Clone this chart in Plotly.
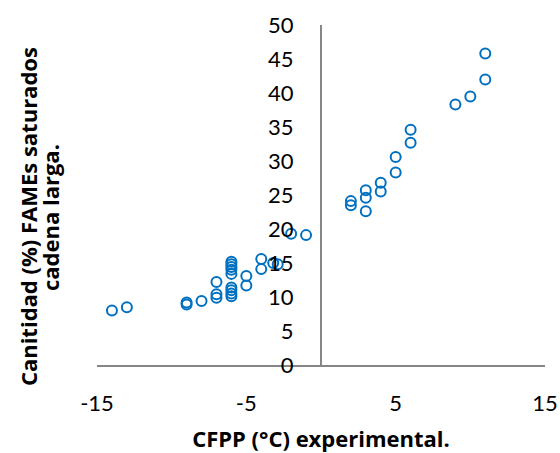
import plotly.graph_objects as go

# CFPP (°C) experimental
cfpp = [-14, -13, -9, -9, -8, -7, -7, -7,
        -6, -6, -6, -6, -6, -6, -6, -6, -6,
        -5, -5, -4, -4, -3.2, -2.9, -2, -1,
        2, 2, 3, 3, 3, 4, 4, 5, 5, 6, 6, 9, 10, 11, 11]
# Cantidad (%) FAMEs saturados cadena larga
fames = [8.0, 8.5, 8.9, 9.2, 9.4, 12.2, 10.4, 9.9,
         15.2, 14.8, 14.4, 14.0, 13.4, 11.4, 11.0, 10.5, 10.1,
         13.1, 11.7, 15.6, 14.1, 15.0, 14.8, 19.3, 19.1,
         24.1, 23.5, 22.6, 24.6, 25.7, 26.8, 25.5, 28.3, 30.6, 32.7, 34.6, 38.3, 39.5, 42.0, 45.8]

x_ticks = [-15, -5, 5, 15]
y_ticks = [0, 5, 10, 15, 20, 25, 30, 35, 40, 45, 50]
y_title_lines = ["Canitidad (%) FAMEs saturados", "cadena larga."]

AXIS = "#868686"
FONT = "Lato"
TFONT = "Open Sans"

fig = go.Figure()
fig.add_trace(go.Scatter(
    x=cfpp, y=fames, mode="markers",
    marker=dict(symbol="circle-open", size=10, color="#0070C0",
                line=dict(width=2, color="#0070C0")),
    showlegend=False,
))

fig.update_layout(
    width=560, height=453,
    margin=dict(l=97, r=15, t=25, b=88),
    paper_bgcolor="white", plot_bgcolor="white",
    font=dict(family=FONT, color="black"),
    xaxis=dict(
        range=[-15, 15], tickvals=x_ticks, ticktext=[str(v) for v in x_ticks],
        showgrid=False, zeroline=False, showline=True, linecolor=AXIS, linewidth=2,
        ticks="", tickfont=dict(size=22, family=FONT), ticklabelstandoff=18,
        automargin=False,
        title=dict(text="<b>CFPP (°C) experimental.</b>", font=dict(size=22, family=TFONT), standoff=19),
    ),
    yaxis=dict(
        range=[0, 50], tickvals=y_ticks, ticktext=[str(v) for v in y_ticks],
        anchor="free", position=0.5, automargin=False,
        showgrid=False, zeroline=False, showline=True, linecolor=AXIS, linewidth=2,
        ticks="", tickfont=dict(size=22, family=FONT), ticklabelstandoff=22,
    ),
    annotations=[
        dict(text="<b>" + y_title_lines[0] + "</b>", xref="paper", yref="paper",
             x=-0.154, y=0.435, xanchor="center", yanchor="middle", textangle=-90,
             showarrow=False, font=dict(size=22, family=TFONT, color="black")),
        dict(text="<b>" + y_title_lines[1] + "</b>", xref="paper", yref="paper",
             x=-0.105, y=0.435, xanchor="center", yanchor="middle", textangle=-90,
             showarrow=False, font=dict(size=22, family=TFONT, color="black")),
    ],
)

fig.write_html("out.html")
